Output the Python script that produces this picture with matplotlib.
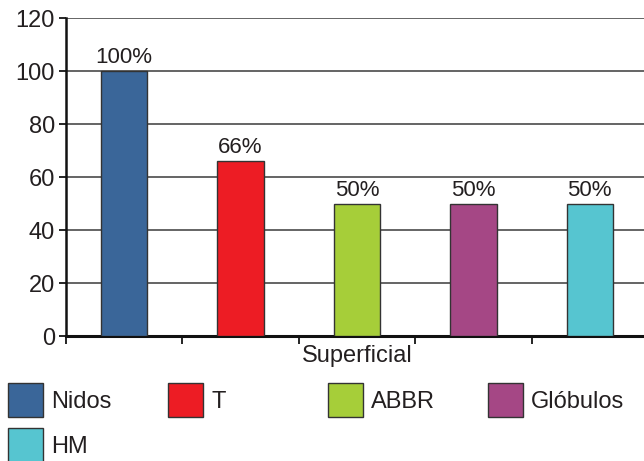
import matplotlib
matplotlib.use("Agg")
import matplotlib.pyplot as plt

plt.rcParams['font.family'] = ['Liberation Sans', 'DejaVu Sans']

# datos
categorias = ['Nidos', 'T', 'ABBR', 'Glóbulos', 'HM']
valores = [100, 66, 50, 50, 50]
etiquetas = ['100%', '66%', '50%', '50%', '50%']
colores = ['#3A6699', '#ED1C24', '#A6CE39', '#A54785', '#56C5D0']
grupo = 'Superficial'

texto = '#231F20'

fig = plt.figure(figsize=(6.44, 4.61), dpi=100)
ax = fig.add_axes([66/644, 1-336/461, (648-66)/644, (336-18)/461])

x = range(len(categorias))
barras = ax.bar(x, valores, width=0.40, color=colores, edgecolor='#333333', linewidth=1, zorder=3)

for b, et in zip(barras, etiquetas):
    ax.text(b.get_x() + b.get_width()/2, b.get_height() + 1, et,
            ha='center', va='bottom', fontsize=16, color=texto, zorder=4)

ax.set_xlim(-0.5, len(categorias) - 0.5)
ax.set_ylim(0, 120)
ax.set_yticks(range(0, 121, 20))
ax.set_xticks([i - 0.5 for i in range(len(categorias) + 1)])
ax.set_xticklabels([])
ax.set_xlabel(grupo, fontsize=17, color=texto, labelpad=-3)

ax.grid(axis='y', color='#4a4a4a', linewidth=1.2, zorder=0)
for s in ['top', 'right']:
    ax.spines[s].set_visible(False)
ax.spines['left'].set_linewidth(1.8)
ax.spines['bottom'].set_linewidth(2.2)
ax.spines['left'].set_color('#111111')
ax.spines['bottom'].set_color('#111111')
ax.tick_params(axis='y', labelsize=17, labelcolor=texto, length=5, width=1.2, direction='out', pad=3)
ax.tick_params(axis='x', length=6, width=1.2, direction='out')

# leyenda: 4 por fila, paso fijo
for i, (b, nombre) in enumerate(zip(barras, categorias)):
    fila, col = divmod(i, 4)
    leg = fig.legend([b], [nombre], loc='center left',
                     bbox_to_anchor=((8 + 160*col)/644, 1 - (400 + 45*fila)/461),
                     frameon=False, fontsize=17, handlelength=1.49, handleheight=1.86,
                     handletextpad=0.34, borderpad=0, borderaxespad=0)
    for t in leg.get_texts():
        t.set_color(texto)

fig.savefig('out.png', dpi=100)
